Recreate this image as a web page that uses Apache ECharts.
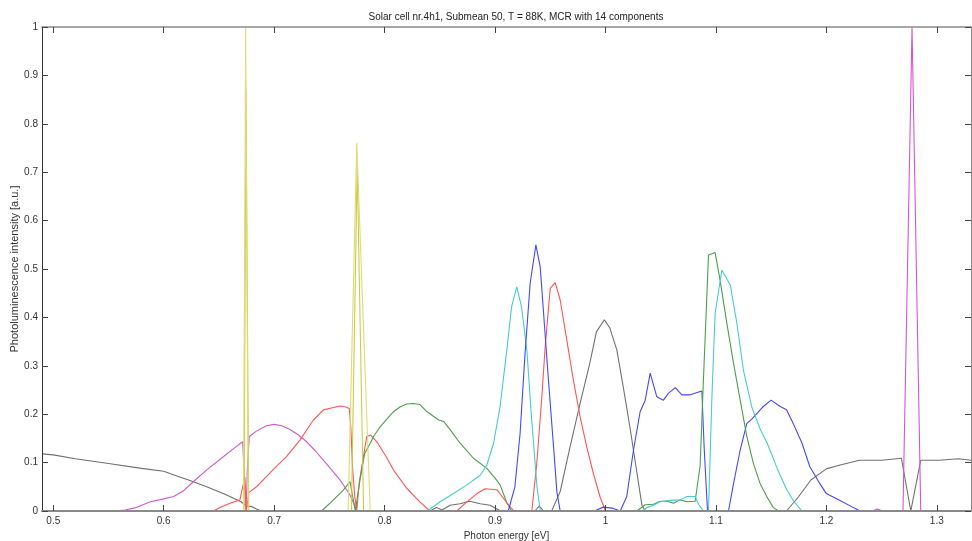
<!DOCTYPE html>
<html>
<head>
<meta charset="utf-8">
<script src="https://cdn.jsdelivr.net/npm/echarts@6/dist/echarts.min.js"></script>
<style>html,body{margin:0;padding:0;background:#fff}#c{width:972px;height:541px}</style>
</head>
<body>
<div id="c"></div>
<script>
var titleText = 'Solar cell nr.4h1, Submean 50, T = 88K, MCR with 14 components';
var xTicks = [0.5, 0.6, 0.7, 0.8, 0.9, 1.0, 1.1, 1.2, 1.3];
var yTicks = [0, 0.1, 0.2, 0.3, 0.4, 0.5, 0.6, 0.7, 0.8, 0.9, 1];

var grayLowX = [0.49,0.50,0.52,0.55,0.58,0.60,0.61,0.625,0.64,0.655,0.67,0.675,0.68,0.684,0.688];
var grayLowY = [0.118,0.116,0.108,0.098,0.088,0.082,0.074,0.062,0.049,0.035,0.019,0.01,0.009,0.004,0];
var grayHighX = [1.164,1.175,1.186,1.2,1.2125,1.23,1.25,1.268,1.2765,1.2855,1.302,1.32,1.331];
var grayHighY = [0,0.03,0.064,0.087,0.095,0.105,0.105,0.109,0,0.105,0.105,0.108,0.105];

var gray2X = [0.841,0.847,0.852,0.8593,0.8684,0.877,0.8866,0.8956,0.905,0.936,0.94,0.944,0.9513,0.959,0.968,0.977,0.9858,0.9918,0.999,1.004,1.0103,1.0163,1.0224,1.0284,1.033,1.036];
var gray2Y = [0,0.007,0.002,0.012,0.015,0.02,0.015,0.012,0,0,0.01,0,0,0.04,0.133,0.222,0.305,0.37,0.395,0.378,0.333,0.254,0.17,0.08,0.012,0];

var magenta1X = [0.555,0.565,0.575,0.588,0.6,0.609,0.618,0.627,0.639,0.654,0.665,0.6715,0.673,0.6745,0.676,0.6775,0.684,0.693,0.7,0.707,0.714,0.722,0.7295,0.737,0.7446,0.752,0.7597,0.7687,0.775];
var magenta1Y = [0,0.002,0.007,0.019,0.025,0.03,0.042,0.061,0.085,0.112,0.132,0.143,0.145,0,0.1,0.154,0.165,0.176,0.179,0.176,0.169,0.157,0.143,0.125,0.105,0.085,0.064,0.033,0];
var magenta2X = [1.242,1.246,1.251,1.2694,1.2776,1.2855];
var magenta2Y = [0,0.004,0,0,1.0,0];

var yellow1X = [0.6722,0.6742,0.6765,0.767,0.7748,0.787];
var yellow1Y = [0,1.0,0,0,0.761,0];
var yellow2X = [0.6728,0.6745,0.677,0.770,0.7752,0.781];
var yellow2Y = [0,0.873,0,0,0.717,0];

var red1X = [0.645,0.651,0.66,0.669,0.6735,0.6748,0.677,0.684,0.693,0.702,0.711,0.7235,0.7355,0.7446,0.7537,0.7597,0.765,0.768,0.7695,0.771,0.773,0.7748,0.7772,0.780,0.7838,0.7875,0.793,0.802,0.808,0.82,0.832,0.841];
var red1Y = [0,0.007,0.016,0.023,0.07,0,0.038,0.05,0.071,0.092,0.112,0.147,0.188,0.209,0.214,0.217,0.215,0.212,0.17,0.09,0.03,0,0.062,0.1,0.154,0.157,0.143,0.11,0.085,0.047,0.019,0];
var red2X = [0.8654,0.8745,0.8836,0.891,0.9017,0.9107,0.917,0.9333,0.9378,0.9424,0.9454,0.95,0.9545,0.959,0.965,0.971,0.977,0.983,0.989,0.995,1.0];
var red2Y = [0,0.019,0.036,0.046,0.044,0.017,0,0,0.098,0.236,0.339,0.46,0.472,0.436,0.353,0.27,0.195,0.133,0.078,0.03,0];

var green1X = [0.743,0.7537,0.7627,0.7687,0.7735,0.7778,0.782,0.787,0.79,0.796,0.802,0.808,0.814,0.82,0.826,0.832,0.8385,0.849,0.8535,0.861,0.8684,0.8805,0.8926,0.9,0.9046,0.9107,0.915];
var green1Y = [0,0.023,0.043,0.061,0,0.065,0.119,0.14,0.154,0.174,0.19,0.205,0.215,0.221,0.222,0.22,0.205,0.188,0.185,0.163,0.14,0.109,0.088,0.068,0.054,0.017,0];
var green2X = [1.0284,1.036,1.0435,1.0495,1.0555,1.0616,1.0676,1.0737,1.0812,1.0857,1.0887,1.0918,1.0933,1.0993,1.1038,1.1099,1.116,1.122,1.128,1.134,1.14,1.146,1.152,1.157];
var green2Y = [0,0.013,0.014,0.02,0.02,0.016,0.023,0.019,0.02,0.093,0.27,0.443,0.529,0.534,0.477,0.388,0.305,0.229,0.154,0.098,0.057,0.03,0.007,0];

var cyan1X = [0.8385,0.8503,0.8624,0.8745,0.8866,0.8926,0.8987,0.9046,0.9107,0.915,0.9197,0.924,0.9288,0.933,0.938,0.941];
var cyan1Y = [0,0.019,0.036,0.054,0.074,0.095,0.14,0.216,0.333,0.422,0.463,0.422,0.333,0.195,0.05,0];
var cyan2X = [1.0343,1.0374,1.0435,1.0495,1.0585,1.0676,1.0737,1.0812,1.0843,1.0887,1.0933,1.0964,1.0993,1.1054,1.113,1.119,1.125,1.1325,1.14,1.1465,1.1555,1.164,1.1705,1.178];
var cyan2Y = [0,0.007,0.012,0.019,0.022,0.023,0.03,0.03,0.014,0,0,0.236,0.408,0.498,0.467,0.388,0.29,0.215,0.17,0.14,0.088,0.045,0.02,0];

var blue1X = [0.912,0.918,0.9227,0.927,0.9318,0.937,0.9409,0.944,0.9484,0.953,0.956,0.959];
var blue1Y = [0,0.05,0.16,0.319,0.47,0.55,0.505,0.408,0.27,0.133,0.04,0];
var blue2X = [0.99,0.998,1.006,1.0134,1.0193,1.0254,1.0314,1.036,1.0405,1.0465,1.0525,1.057,1.0632,1.0692,1.0767,1.0873,1.0894,1.0924,1.1114,1.116,1.122,1.128,1.1325,1.143,1.15,1.1583,1.164,1.17,1.178,1.185,1.194,1.2,1.212,1.2245,1.2306];
var blue2Y = [0,0.008,0.006,0,0.03,0.126,0.205,0.229,0.285,0.236,0.229,0.243,0.255,0.24,0.24,0.248,0.13,0,0,0.057,0.126,0.181,0.19,0.216,0.229,0.216,0.209,0.181,0.14,0.092,0.057,0.036,0.022,0.007,0];

var COL = {
  k: '#707070', m: '#cf58cf', y: '#cccc44', r: '#ff5555',
  g: '#4a9f4a', c: '#48cccc', b: '#4646ff'
};

function zip(xs, ys) { return xs.map(function (x, i) { return [x, ys[i]]; }); }
function line(xs, ys, color) {
  return {
    type: 'line', data: zip(xs, ys), showSymbol: false, symbol: 'none',
    lineStyle: { width: 1.1, color: color }, itemStyle: { color: color },
    animation: false, silent: true, z: 2
  };
}

var series = [
  line(grayLowX, grayLowY, COL.k),
  line(grayHighX, grayHighY, COL.k),
  line(magenta1X, magenta1Y, COL.m),
  line(red1X, red1Y, COL.r),
  line(green1X, green1Y, COL.g),
  line(gray2X, gray2Y, COL.k),
  line(red2X, red2Y, COL.r),
  line(cyan1X, cyan1Y, COL.c),
  line(blue1X, blue1Y, COL.b),
  line(blue2X, blue2Y, COL.b),
  line(green2X, green2Y, COL.g),
  line(cyan2X, cyan2Y, COL.c),
  line(yellow2X, yellow2Y, COL.y),
  line(yellow1X, yellow1Y, '#dcdc78'),
  line(magenta2X, magenta2Y, COL.m)
];

var FONT = 'Liberation Sans';
var xMin = 0.4898, xMax = 1.331;

var chart = echarts.init(document.getElementById('c'), null, { renderer: 'canvas' });
chart.setOption({
  animation: false,
  backgroundColor: '#ffffff',
  title: {
    text: titleText, left: 511, top: 7, textAlign: 'center',
    textStyle: { fontFamily: FONT, fontSize: 10, fontWeight: 'normal', color: '#222' }
  },
  grid: { left: 42, right: 1, top: 27, bottom: 30, containLabel: false, outerBoundsMode: 'none' },
  xAxis: [{
    type: 'value', min: xMin, max: xMax, position: 'bottom', z: 5,
    name: 'Photon energy [eV]', nameLocation: 'middle', nameGap: 16,
    nameTextStyle: { fontFamily: FONT, fontSize: 10, color: '#333' },
    axisLine: { show: true, onZero: false, lineStyle: { color: '#8a8a8a', width: 2 } },
    axisTick: { show: true, inside: true, length: 6, customValues: xTicks, lineStyle: { color: '#444' } },
    axisLabel: { customValues: xTicks, margin: 5, fontFamily: FONT, fontSize: 10, color: '#333',
      formatter: function (v) { return String(+v.toFixed(2)); } },
    splitLine: { show: false }
  }, {
    type: 'value', min: xMin, max: xMax, position: 'top', z: 5,
    axisLine: { show: true, onZero: false, lineStyle: { color: '#8a8a8a', width: 1.5 } },
    axisTick: { show: true, inside: true, length: 6, customValues: xTicks, lineStyle: { color: '#444' } },
    axisLabel: { show: false }, splitLine: { show: false }
  }],
  yAxis: [{
    type: 'value', min: 0, max: 1, interval: 0.1, position: 'left', z: 5,
    name: 'Photoluminescence intensity [a.u.]', nameLocation: 'middle', nameGap: 22,
    nameMoveOverlap: false,
    nameTextStyle: { fontFamily: FONT, fontSize: 11, color: '#333' },
    axisLine: { show: true, onZero: false, lineStyle: { color: '#333', width: 1 } },
    axisTick: { show: true, inside: true, length: 6, lineStyle: { color: '#444' } },
    axisLabel: { margin: 4, fontFamily: FONT, fontSize: 10, color: '#333',
      formatter: function (v) { return String(+v.toFixed(2)); } },
    splitLine: { show: false }
  }, {
    type: 'value', min: 0, max: 1, interval: 0.1, position: 'right', z: 5,
    axisLine: { show: true, onZero: false, lineStyle: { color: '#8a8a8a', width: 1 } },
    axisTick: { show: true, inside: true, length: 6, lineStyle: { color: '#444' } },
    axisLabel: { show: false }, splitLine: { show: false }
  }],
  series: series
});
</script>
</body>
</html>
